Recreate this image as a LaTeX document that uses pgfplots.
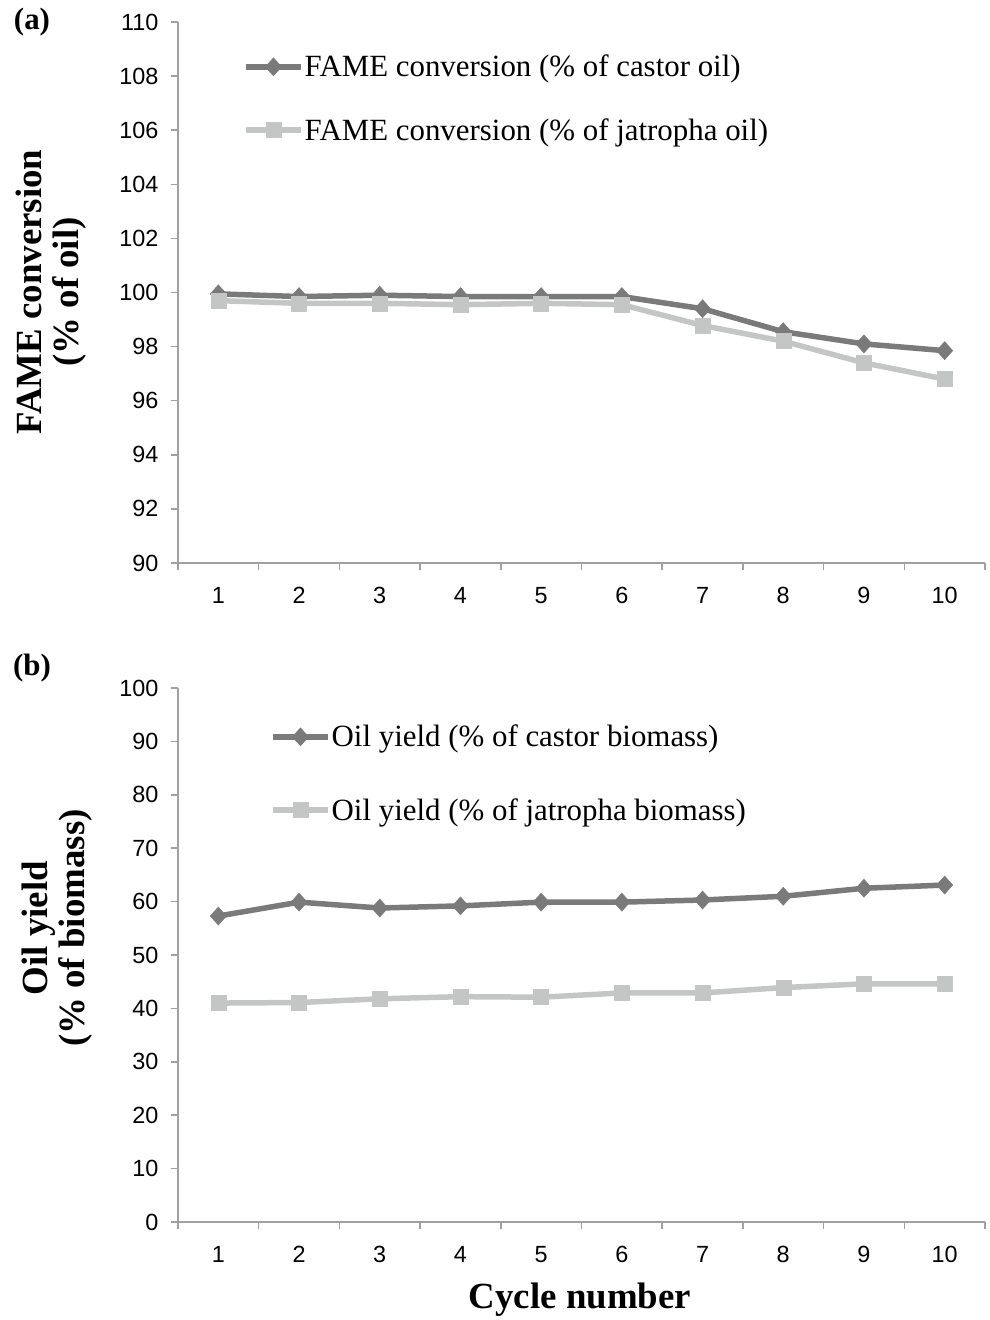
\documentclass[border=0pt]{standalone}
\usepackage{pgfplots}
\pgfplotsset{compat=1.18}
\usepackage{fontspec}
\setmainfont{Liberation Serif}
\newfontfamily\sansf{Liberation Sans}
\definecolor{axgray}{RGB}{160,160,160}
\definecolor{dkgray}{RGB}{122,122,122}
\definecolor{ltgray}{RGB}{196,197,197}
\pgfplotsset{
  myaxis/.style={
    scale only axis, width=807bp,
    xmin=0.5, xmax=10.5,
    axis x line*=bottom, axis y line*=left,
    axis line style={draw=axgray, line width=1.5bp},
    xtick={0.5,1.5,2.5,3.5,4.5,5.5,6.5,7.5,8.5,9.5,10.5},
    x tick label as interval,
    xticklabels={1,2,3,4,5,6,7,8,9,10},
    tick align=outside,
    major tick length=7bp,
    tick style={draw=axgray, line width=1.5bp},
    /pgf/number format/assume math mode=true,
    ticklabel style={font=\sansf\fontsize{23.5}{23.5}\selectfont, text=black},
    yticklabel style={xshift=-9bp},
    xticklabel style={yshift=-14bp},
    legend cell align=left,
    legend image code/.code={\draw[mark repeat=2,mark phase=2,##1] plot coordinates {(0bp,0bp) (27.5bp,0bp) (55bp,0bp)};},
  },
  castor/.style={dkgray, line width=5.5bp, mark=diamond*, mark size=9bp, mark options={solid, xscale=1.2, fill=dkgray, draw=dkgray, line width=0.5bp}},
  jatropha/.style={ltgray, line width=5.5bp, mark=square*, mark size=7.5bp, mark options={solid, fill=ltgray, draw=ltgray, line width=0.5bp}},
}
\begin{document}
\begin{tikzpicture}
\useasboundingbox (0bp,0bp) rectangle (990bp,-1320bp);
% Top panel
\begin{axis}[myaxis, at={(178bp,-563bp)}, anchor=south west, height=541bp,
  ymin=90, ymax=110, ytick={90,92,...,110},
  legend style={draw=none, fill=none, at={(axis description cs:0,1)}, anchor=north west,
    xshift=65bp, yshift=-32bp, row sep=38bp, inner sep=0pt,
    font=\fontsize{31}{31}\selectfont, nodes={inner sep=1bp}},
]
\addplot[castor] coordinates {(1,99.95) (2,99.85) (3,99.9) (4,99.85) (5,99.85) (6,99.85) (7,99.4) (8,98.55) (9,98.1) (10,97.85)};
\addlegendentry{FAME conversion (\% of castor oil)}
\addplot[jatropha] coordinates {(1,99.7) (2,99.6) (3,99.6) (4,99.55) (5,99.6) (6,99.55) (7,98.78) (8,98.2) (9,97.4) (10,96.8)};
\addlegendentry{FAME conversion (\% of jatropha oil)}
\end{axis}
% Bottom panel
\begin{axis}[myaxis, at={(178bp,-1222bp)}, anchor=south west, height=534bp,
  ymin=0, ymax=100, ytick={0,10,...,100},
  legend style={draw=none, fill=none, at={(axis description cs:0,1)}, anchor=north west,
    xshift=92bp, yshift=-36bp, row sep=48bp, inner sep=0pt,
    font=\fontsize{31}{31}\selectfont, nodes={inner sep=1bp}},
]
\addplot[castor] coordinates {(1,57.3) (2,59.9) (3,58.8) (4,59.2) (5,59.9) (6,59.9) (7,60.3) (8,61.0) (9,62.5) (10,63.1)};
\addlegendentry{Oil yield (\% of castor biomass)}
\addplot[jatropha] coordinates {(1,41.0) (2,41.1) (3,41.8) (4,42.2) (5,42.1) (6,42.9) (7,42.9) (8,43.9) (9,44.6) (10,44.6)};
\addlegendentry{Oil yield (\% of jatropha biomass)}
\end{axis}
% Labels
\node[font=\bfseries\fontsize{31}{31}\selectfont] at (32bp,-22bp) {(a)};
\node[font=\bfseries\fontsize{31}{31}\selectfont] at (32bp,-668bp) {(b)};
\node[rotate=90, align=center, font=\bfseries\fontsize{37}{37}\selectfont] at (51bp,-292bp) {FAME conversion\\[0bp](\% of oil)};
\node[rotate=90, align=center, font=\bfseries\fontsize{37}{37}\selectfont] at (57bp,-928bp) {Oil yield\\[0bp](\% of biomass)};
\node[font=\bfseries\fontsize{37}{37}\selectfont] at (580bp,-1300bp) {Cycle number};
\end{tikzpicture}
\end{document}
